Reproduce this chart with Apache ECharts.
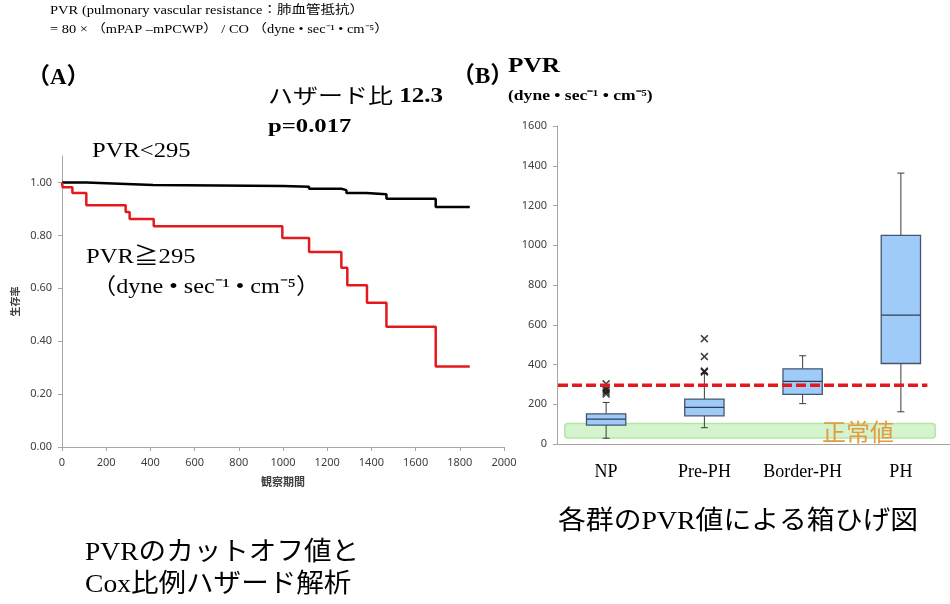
<!DOCTYPE html>
<html>
<head>
<meta charset="utf-8">
<script src="https://cdn.jsdelivr.net/npm/echarts@6/dist/echarts.min.js"></script>
<style>
  html, body { margin: 0; padding: 0; background: #fff; }
  #chart { width: 950px; height: 604px; }
</style>
</head>
<body>
<div id="chart"></div>
<script>
// ---- (A) Kaplan-Meier survival, [days, survival] at each step ----
const kmLowPVR = [
  [0, 1.000], [110, 0.994], [291, 0.990], [412, 0.987], [1000, 0.984],
  [1118, 0.976], [1264, 0.971], [1287, 0.960], [1377, 0.955], [1468, 0.938],
  [1691, 0.907], [1845, 0.907]
];
const kmHighPVR = [
  [0, 1.000], [3, 0.982], [47, 0.960], [110, 0.914], [288, 0.888],
  [306, 0.862], [415, 0.834], [997, 0.790], [1118, 0.737], [1264, 0.678],
  [1291, 0.611], [1380, 0.545], [1468, 0.455], [1691, 0.304], [1845, 0.304]
];
const survivalTicks = [0, 0.2, 0.4, 0.6, 0.8, 1.0];

// ---- (B) PVR box plot per group ----
const groups = ['NP', 'Pre-PH', 'Border-PH', 'PH'];
const whiskerLow  = [29, 82, 203, 162];
const quartile1   = [95, 142, 250, 405];
const medians     = [125, 184, 315, 648];
const quartile3   = [152, 226, 378, 1050];
const whiskerHigh = [209, 355, 444, 1363];
const outliersNP    = [303, 282, 272, 262, 252];
const outliersPrePH = [530, 440, 367, 362];
const cutoffPVR = 295;
const normalRange = [30, 103];

const SERIF = '"Liberation Serif", "Noto Sans CJK JP", serif';
const SANS = '"Noto Sans", "Noto Sans CJK JP", sans-serif';
const CJK = '"Noto Sans CJK JP", sans-serif';

const boxData = groups.map((g, i) => [i, whiskerLow[i], quartile1[i], medians[i], quartile3[i], whiskerHigh[i]]);
const outlierData = []
  .concat(outliersNP.map(v => [0, v]))
  .concat(outliersPrePH.map(v => [1, v]));

// text helper: left-anchored, vertically centred, optionally widened
function label(x, y, text, size, opts) {
  opts = opts || {};
  return {
    type: 'text', x: x, y: y, scaleX: opts.scaleX || 1, z: 100,
    style: Object.assign({
      text: text, fontSize: size, fontFamily: opts.family || SERIF,
      fontWeight: opts.weight || 'normal', fill: opts.color || '#000',
      align: 'left', verticalAlign: 'middle'
    }, opts.style || {})
  };
}

const axisGrey = '#a6a6a6';
const tickLabel = { color: '#404040', fontSize: 11, fontFamily: SANS };
const plain = v => String(v);

const chart = echarts.init(document.getElementById('chart'), null, { renderer: 'canvas' });
chart.setOption({
  animation: false,
  backgroundColor: '#fff',
  grid: [
    { left: 62, right: 446, top: 156, bottom: 157 },
    { left: 557, right: -10, top: 126, bottom: 160 }
  ],
  xAxis: [
    {
      gridIndex: 0, type: 'value', min: 0, max: 2000, interval: 200,
      name: '観察期間', nameLocation: 'middle', nameGap: 29,
      nameTextStyle: { fontSize: 11, fontWeight: 'bold', fontFamily: CJK, color: '#404040' },
      axisLine: { lineStyle: { color: axisGrey } },
      axisTick: { length: 4, lineStyle: { color: axisGrey } },
      axisLabel: Object.assign({ margin: 10, formatter: plain }, tickLabel),
      splitLine: { show: false }
    },
    {
      gridIndex: 1, type: 'category', data: groups, boundaryGap: true,
      axisLine: { lineStyle: { color: axisGrey } },
      axisTick: { length: 4, interval: 0, lineStyle: { color: axisGrey } },
      axisLabel: { interval: 0, hideOverlap: false, margin: 19, fontSize: 18, fontFamily: SERIF, color: '#000' }
    },
    { gridIndex: 1, type: 'value', min: 0, max: 4, show: false }
  ],
  yAxis: [
    {
      gridIndex: 0, type: 'value', min: 0, max: 1.1,
      name: '生存率', nameLocation: 'middle', nameGap: 42,
      nameTextStyle: { fontSize: 10, fontWeight: 'bold', fontFamily: CJK, color: '#404040' },
      axisLine: { show: true, lineStyle: { color: axisGrey } },
      axisTick: { show: true, length: 4, customValues: survivalTicks, lineStyle: { color: axisGrey } },
      axisLabel: Object.assign({ margin: 10, customValues: survivalTicks,
        formatter: v => v.toFixed(2) }, tickLabel),
      splitLine: { show: false }
    },
    {
      gridIndex: 1, type: 'value', min: 0, max: 1600, interval: 200,
      axisLine: { show: true, lineStyle: { color: axisGrey } },
      axisTick: { show: true, length: 4, lineStyle: { color: axisGrey } },
      axisLabel: Object.assign({ margin: 10, formatter: plain }, tickLabel),
      splitLine: { show: false }
    }
  ],
  series: [
    {
      type: 'line', name: 'PVR<295', xAxisIndex: 0, yAxisIndex: 0, step: 'end',
      data: kmLowPVR, symbol: 'none', z: 3,
      lineStyle: { color: '#000', width: 2.5 }
    },
    {
      type: 'line', name: 'PVR≧295', xAxisIndex: 0, yAxisIndex: 0, step: 'end',
      data: kmHighPVR, symbol: 'none', z: 3,
      lineStyle: { color: '#e3191e', width: 2.5 }
    },
    {
      // normal-range band
      type: 'custom', xAxisIndex: 2, yAxisIndex: 1, z: 1,
      data: [[0.08, normalRange[0], 3.85, normalRange[1]]],
      renderItem: function (params, api) {
        const p0 = api.coord([api.value(0), api.value(3)]);
        const p1 = api.coord([api.value(2), api.value(1)]);
        return {
          type: 'rect',
          shape: { x: p0[0], y: p0[1], width: p1[0] - p0[0], height: p1[1] - p0[1], r: 3 },
          style: { fill: 'rgba(204,242,196,0.85)', stroke: '#b4e6a6', lineWidth: 1.5 }
        };
      }
    },
    {
      // boxes with short whisker caps
      type: 'custom', xAxisIndex: 1, yAxisIndex: 1, z: 2,
      data: boxData,
      renderItem: function (params, api) {
        const i = api.value(0);
        const lo = api.coord([i, api.value(1)]);
        const b1 = api.coord([i, api.value(2)]);
        const md = api.coord([i, api.value(3)]);
        const b3 = api.coord([i, api.value(4)]);
        const hi = api.coord([i, api.value(5)]);
        const band = api.size([1, 0])[0];
        const half = band * 0.2;
        const cap = 3.5;
        const cx = lo[0];
        const wStyle = { stroke: '#3c3c3c', lineWidth: 1 };
        return {
          type: 'group',
          children: [
            { type: 'line', shape: { x1: cx, y1: lo[1], x2: cx, y2: b1[1] }, style: wStyle },
            { type: 'line', shape: { x1: cx, y1: b3[1], x2: cx, y2: hi[1] }, style: wStyle },
            { type: 'line', shape: { x1: cx - cap, y1: lo[1], x2: cx + cap, y2: lo[1] }, style: wStyle },
            { type: 'line', shape: { x1: cx - cap, y1: hi[1], x2: cx + cap, y2: hi[1] }, style: wStyle },
            { type: 'rect', shape: { x: cx - half, y: b3[1], width: half * 2, height: b1[1] - b3[1] },
              style: { fill: '#9ecbf8', stroke: '#46566e', lineWidth: 1.3 } },
            { type: 'line', shape: { x1: cx - half, y1: md[1], x2: cx + half, y2: md[1] },
              style: { stroke: '#2f3f58', lineWidth: 1.3 } }
          ]
        };
      }
    },
    {
      type: 'scatter', xAxisIndex: 1, yAxisIndex: 1, z: 3,
      data: outlierData,
      symbol: 'path://M0,1.4L1.4,0L5,3.6L8.6,0L10,1.4L6.4,5L10,8.6L8.6,10L5,6.4L1.4,10L0,8.6L3.6,5Z',
      symbolSize: 8,
      itemStyle: { color: '#111' }
    },
    {
      // cut-off line
      type: 'line', xAxisIndex: 2, yAxisIndex: 1, z: 4,
      data: [[0.01, cutoffPVR], [3.77, cutoffPVR]],
      symbol: 'none',
      lineStyle: { color: '#e3191e', width: 3.5, type: [10, 4] }
    }
  ],
  graphic: [
    label(50, 11, 'PVR (pulmonary vascular resistance：肺血管抵抗）', 12, { scaleX: 1.21 }),
    label(50, 30, '= 80 × （mPAP –mPCWP） / CO （dyne • sec⁻¹ • cm⁻⁵）', 12, { scaleX: 1.2 }),
    label(27, 78, '（A）', 23, { weight: 'bold' }),
    {
      type: 'text', x: 268, y: 97, scaleX: 1.19, z: 100,
      style: {
        text: '{a|ハザード比 }{b|12.3}', align: 'left', verticalAlign: 'middle',
        rich: {
          a: { fontSize: 21, fontFamily: SERIF, fill: '#000' },
          b: { fontSize: 21, fontFamily: SERIF, fontWeight: 'bold', fill: '#000' }
        }
      }
    },
    label(268, 127, 'p=0.017', 19, { weight: 'bold', scaleX: 1.3 }),
    label(92, 152, 'PVR<295', 20, { scaleX: 1.23 }),
    label(86, 257, 'PVR≧295', 22, { scaleX: 1.12 }),
    label(92, 287, '（dyne • sec⁻¹ • cm⁻⁵）', 22, { scaleX: 1.1 }),
    label(452, 77, '（B）', 23, { weight: 'bold' }),
    label(508, 66, 'PVR', 22, { weight: 'bold', scaleX: 1.15 }),
    label(508, 96, '(dyne • sec⁻¹ • cm⁻⁵)', 15, { weight: 'bold', scaleX: 1.17 }),
    label(822, 432, '正常値', 24, { family: CJK, color: '#e69a40' }),
    label(558, 522, '各群のPVR値による箱ひげ図', 26, { scaleX: 1.07 }),
    label(85, 553, 'PVRのカットオフ値と', 26, { scaleX: 1.06 }),
    label(85, 585, 'Cox比例ハザード解析', 26, { scaleX: 1.06 })
  ]
});
</script>
</body>
</html>
